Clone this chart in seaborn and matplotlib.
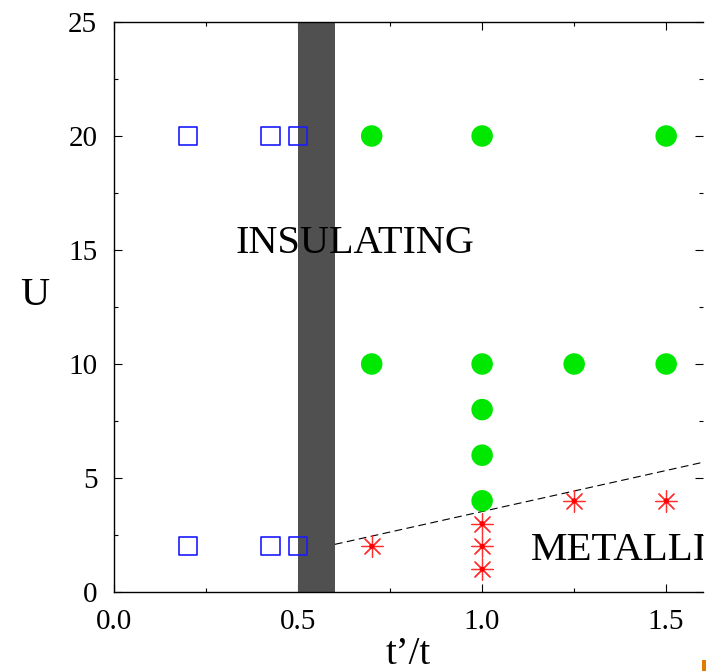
import matplotlib
matplotlib.use("Agg")
import matplotlib.pyplot as plt
import seaborn as sns
import pandas as pd
from matplotlib.patches import Rectangle

# ---- data ----
insulating_x = [0.2, 0.425, 0.5, 0.2, 0.425, 0.5]
insulating_u = [20, 20, 20, 2, 2, 2]

green_x = [0.7, 1.0, 1.5, 0.7, 1.0, 1.25, 1.5, 1.0, 1.0, 1.0]
green_u = [20, 20, 20, 10, 10, 10, 10, 8, 6, 4]

metal_x = [0.7, 1.0, 1.0, 1.0, 1.25, 1.5]
metal_u = [2, 3, 2, 1, 4, 4]

boundary_x = [0.6, 1.6]
boundary_u = [2.09, 5.69]

band_lo, band_hi = 0.5, 0.6

x_ticks = [0.0, 0.5, 1.0, 1.5]
x_ticklabels = ["0.0", "0.5", "1.0", "1.5"]
y_ticks = [0, 5, 10, 15, 20, 25]
y_ticklabels = ["0", "5", "10", "15", "20", "25"]

# ---- style ----
sns.set_style("ticks")
plt.rcParams["font.family"] = ["Liberation Serif", "DejaVu Serif"]
for k in ["text.color", "axes.labelcolor", "xtick.color", "ytick.color",
          "axes.edgecolor"]:
    plt.rcParams[k] = "black"

W, H, DPI = 706, 671, 100
fig = plt.figure(figsize=(W / DPI, H / DPI), dpi=DPI)
ax = fig.add_axes([114 / W, (H - 592) / H, (703 - 114) / W, (592 - 22) / H])

ax.axvspan(band_lo, band_hi, color="#505050", lw=0, zorder=1)

sns.lineplot(x=boundary_x, y=boundary_u, ax=ax, color="black", lw=0.8,
             linestyle=(0, (7, 4)), zorder=2, estimator=None, sort=False)

ins_df = pd.DataFrame({"x": insulating_x, "u": insulating_u})
sns.scatterplot(data=ins_df, x="x", y="u", ax=ax, marker="s", s=170,
                facecolors="none", edgecolor="#1a1aff", linewidth=1.2, zorder=4)

g_df = pd.DataFrame({"x": green_x, "u": green_u})
sns.scatterplot(data=g_df, x="x", y="u", ax=ax, marker="o", s=240,
                color="#00e800", edgecolor="none", linewidth=0, zorder=4)

m_df = pd.DataFrame({"x": metal_x, "u": metal_u})
sns.scatterplot(data=m_df, x="x", y="u", ax=ax, marker=(8, 2, 0), s=235,
                color="#ff3030", linewidth=0.9, zorder=4)
sns.scatterplot(data=m_df, x="x", y="u", ax=ax, marker="o", s=14,
                color="#ff0000", edgecolor="none", linewidth=0, zorder=5)

ax.set_xlim(0, 1.6)
ax.set_ylim(0, 25)
ax.set_xticks(x_ticks)
ax.set_xticklabels(x_ticklabels)
ax.set_yticks(y_ticks)
ax.set_yticklabels(y_ticklabels)
ax.set_xticks([0.25, 0.75, 1.25], minor=True)
ax.set_yticks([2.5, 7.5, 12.5, 17.5, 22.5], minor=True)

ax.tick_params(which="both", direction="in", top=True, right=True,
               width=0.8, color="black", labelcolor="black")
ax.tick_params(which="major", length=6, labelsize=21, pad=12)
ax.tick_params(which="minor", length=3)

for s in ["left", "top", "bottom"]:
    ax.spines[s].set_color("black")
    ax.spines[s].set_linewidth(1.0)
ax.spines["right"].set_visible(False)

ax.set_xlabel("t\u2019/t", fontsize=28, va="baseline", color="black")
ax.xaxis.set_label_coords(0.5, -0.1265)
ax.set_ylabel("U", fontsize=29, rotation=0, va="center", ha="center",
              color="black")
ax.yaxis.set_label_coords(-0.134, 0.521)

ax.text(0.6535, 14.87, "INSULATING", fontsize=29, ha="center", va="baseline",
        color="black", zorder=6)
ax.text(1.133, 1.40, "METALLIC", fontsize=29.5, ha="left", va="baseline",
        color="black", zorder=6, clip_on=True)

fig.patches.append(Rectangle((702 / W, 0), 4 / W, 11 / H, transform=fig.transFigure,
                             color="#e07a00", lw=0))

fig.savefig("out.png", dpi=DPI)
